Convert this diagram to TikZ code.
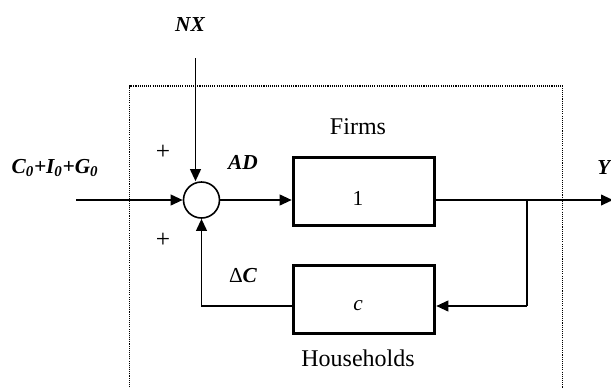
\documentclass[tikz,border=0pt]{standalone}
\usepackage{fontspec}
\setmainfont{Liberation Serif}
\usetikzlibrary{arrows.meta, positioning, calc}
\tikzset{
    block/.style={
        rectangle, draw=black, line width=2.4pt, minimum width=106pt, minimum height=51pt,
        text centered, font=\fontsize{16}{18}\selectfont
    },
    sumnode/.style={
        circle, draw=black, line width=1.2pt, minimum size=27pt, inner sep=0pt
    },
    arrow/.style={
        -{Triangle[length=9pt,width=8pt]}, line width=1.4pt
    },
    line/.style={
        line width=1.4pt
    },
    varlabel/.style={
        font=\fontsize{16}{18}\selectfont\bfseries\itshape, inner sep=0pt
    },
    signlabel/.style={
        font=\fontsize{19}{21}\selectfont, inner sep=0pt
    },
    sectorlabel/.style={
        font=\fontsize{18}{20}\selectfont, inner sep=0pt
    },
    economy/.style={
        draw=black, line width=0.8pt, dash pattern=on 0.8pt off 0.8pt
    }
}
\begin{document}
\begin{tikzpicture}[x=0.75pt, y=-0.75pt]
    \useasboundingbox (0,0) rectangle (611,387);

    % ── Boundary ──
    \draw[economy] (129.5,400) -- (129.5,86) -- (562.5,86) -- (562.5,400);

    % ── Nodes ──
    \node[sumnode]                  (sum)    at (201.5,200) {};
    \node[block]                    (firms)  at (364,191.5) {};
    \node[block]                    (hh)     at (364,299.5) {};
    \node                           (one)    at (358,198) {\fontsize{16}{18}\selectfont 1};
    \node                           (cval)   at (358,306) {\fontsize{16}{18}\selectfont\itshape c};
    \node[sectorlabel]              (firmsl) at (358,127) {Firms};
    \node[sectorlabel]              (hhl)    at (358,358) {Households};

    \coordinate (in)     at (76,200);
    \coordinate (nxtop)  at (195.5,58);
    \coordinate (branch) at (526.7,200);
    \coordinate (out)    at (613,200);

    % ── Arrows ──
    \draw[arrow] (in) -- (sum.west);
    \draw[arrow] (nxtop) -- (nxtop |- sum.north);
    \draw[arrow] (sum.east) -- (sum -| firms.west);
    \draw[arrow] (sum -| firms.east) -- (out);
    \draw[line]  (branch) -- (branch |- cval);
    \draw[arrow] (branch |- cval) -- (cval -| hh.east);
    \draw[arrow] (cval -| hh.west) -- (sum |- cval) -- (sum.south);

    % ── Labels ──
    \node[varlabel]  (nx)  at (190,25)  {NX};
    \node[varlabel]  (exo) at (55,168)  {C\textsubscript{0}+I\textsubscript{0}+G\textsubscript{0}};
    \node[varlabel]  (ad)  at (243,162) {AD};
    \node[varlabel]  (dc)  at (243,276) {{\normalfont\fontsize{16}{18}\selectfont Δ}C};
    \node[varlabel, anchor=west] (y) at (597,168) {Y};
    \node[signlabel] (p1)  at (163,152) {+};
    \node[signlabel] (p2)  at (163,240) {+};

\end{tikzpicture}
\end{document}
